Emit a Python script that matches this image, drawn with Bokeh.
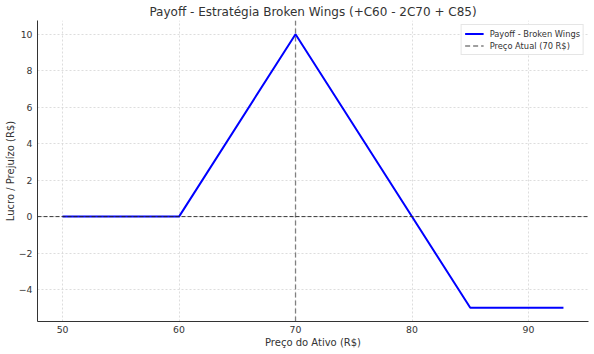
from bokeh.plotting import figure
from bokeh.models import Range1d, FixedTicker, Legend, LegendItem, Span
from bokeh.embed import file_html
from bokeh.resources import INLINE

# Data
preco = [50, 60, 70, 85, 93]          # Preço do ativo (R$)
payoff = [0, 0, 10, -5, -5]           # Lucro / Prejuízo (R$)
preco_atual = 70
x_ticks = [50, 60, 70, 80, 90]
y_ticks = [-4, -2, 0, 2, 4, 6, 8, 10]

FONT = "DejaVu Sans"
TXT = "#333333"

y0, y1 = -5.75, 10.75
p = figure(width=594, height=354, output_backend="svg", toolbar_location=None,
           x_range=Range1d(47.85, 95.15), y_range=Range1d(y0, y1),
           min_border_left=37, min_border_right=6, min_border_top=20, min_border_bottom=33)

p.title.text = "Payoff - Estratégia Broken Wings (+C60 - 2C70 + C85)"
p.title.align = "center"
p.title.text_font = FONT
p.title.text_font_size = "12px"
p.title.text_font_style = "normal"
p.title.text_color = TXT
p.title.offset = 0
p.title.standoff = 3

p.outline_line_color = None
p.background_fill_color = "white"
p.border_fill_color = "white"

for ax in (p.xaxis[0], p.yaxis[0]):
    ax.axis_line_color = "#333333"
    ax.axis_line_width = 1
    ax.major_tick_line_color = None
    ax.minor_tick_line_color = None
    ax.major_tick_out = 0
    ax.major_tick_in = 0
    ax.minor_tick_out = 0
    ax.minor_tick_in = 0
    ax.major_label_text_font = FONT
    ax.major_label_text_font_size = "9.3px"
    ax.major_label_text_color = TXT
    ax.axis_label_text_font = FONT
    ax.axis_label_text_font_size = "10px"
    ax.axis_label_text_font_style = "normal"
    ax.axis_label_text_color = TXT

p.xaxis.major_label_standoff = 4
p.yaxis.major_label_standoff = 5
p.xaxis.ticker = FixedTicker(ticks=x_ticks)
p.yaxis.ticker = FixedTicker(ticks=y_ticks)
p.yaxis.major_label_overrides = {t: (("\u2212" + str(-t)) if t < 0 else str(t)) for t in y_ticks}
p.xaxis.axis_label = "Preço do Ativo (R$)"
p.yaxis.axis_label = "Lucro / Prejuízo (R$)"
p.xaxis.axis_label_standoff = 1
p.yaxis.axis_label_standoff = 0

for g in (p.xgrid[0], p.ygrid[0]):
    g.grid_line_color = "#d4d4d4"
    g.grid_line_dash = "2 2"
    g.grid_line_width = 0.8

# zero line
p.add_layout(Span(location=0, dimension="width", line_color="#222222",
                  line_dash="4 2", line_width=0.9))

# vertical price line
r2 = p.line([preco_atual, preco_atual], [y0, y1], line_color="#808080",
            line_dash="5 3", line_width=1.3)

r1 = p.line(preco, payoff, line_color="#0000ff", line_width=2)

legend = Legend(items=[LegendItem(label="Payoff - Broken Wings", renderers=[r1]),
                       LegendItem(label="Preço Atual (70 R$)", renderers=[r2])],
                location="top_right")
legend.label_text_font = FONT
legend.label_text_font_size = "8.3px"
legend.label_text_color = TXT
legend.border_line_color = "#cccccc"
legend.border_line_width = 1
legend.margin = 4
legend.padding = 3
legend.spacing = 1
legend.label_height = 11
legend.glyph_height = 11
legend.glyph_width = 19
legend.label_standoff = 6
legend.background_fill_alpha = 0.9
p.add_layout(legend)

open("out.html", "w").write(file_html(p, INLINE))
